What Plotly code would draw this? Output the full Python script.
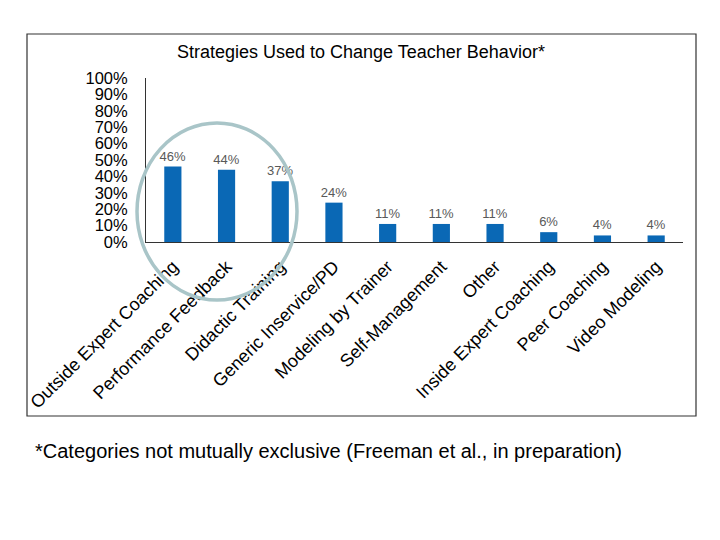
import plotly.graph_objects as go

categories = ["Outside Expert Coaching", "Performance Feedback", "Didactic Training",
              "Generic Inservice/PD", "Modeling by Trainer", "Self-Management", "Other",
              "Inside Expert Coaching", "Peer Coaching", "Video Modeling"]
values = [0.46, 0.44, 0.37, 0.24, 0.11, 0.11, 0.11, 0.06, 0.04, 0.04]
tick_vals = [i / 10 for i in range(11)]
tick_text = [f"{i*10}%" for i in range(11)]

title_text = "Strategies Used to Change Teacher Behavior*"
footnote = "*Categories not mutually exclusive (Freeman et al., in preparation)"

W, H = 720, 540
OFF = 8  # page body margin
L, R, T, B = 146 - OFF, 683 - OFF, 78 - OFF, 242 - OFF


def px(x):
    return (x - OFF - L) / (R - L)


def py(y):
    return (B - (y - OFF)) / (B - T)


fig = go.Figure(go.Bar(
    x=categories, y=values, width=0.32,
    marker=dict(color="#0A68B5", line=dict(width=0)),
    text=[f"{round(v*100)}%" for v in values],
    textposition="outside", constraintext="none",
    textfont=dict(family="Liberation Sans, Arial", size=13, color="#595959"),
    cliponaxis=False,
))

fig.update_layout(
    width=W, height=H,
    margin=dict(l=L, r=W - R, t=T, b=H - B, pad=0),
    paper_bgcolor="white", plot_bgcolor="white",
    showlegend=False,
    font=dict(family="Liberation Sans, Arial", color="black"),
)
fig.update_yaxes(range=[0, 1], tickvals=tick_vals, ticktext=tick_text,
                 showgrid=False, zeroline=False, showline=True, linecolor="#333",
                 linewidth=1, ticks="", ticklabelstandoff=14,
                 tickfont=dict(size=16.5, color="black"))
fig.update_xaxes(showgrid=False, showline=True, linecolor="#333", linewidth=1,
                 ticks="", tickangle=-45, ticklabelstandoff=6,
                 tickfont=dict(size=18, color="black"))

# border box
fig.add_shape(type="rect", xref="paper", yref="paper",
              x0=px(27), x1=px(696), y0=py(416), y1=py(34),
              line=dict(color="#333", width=1.2), layer="below")
# highlight circle
fig.add_shape(type="circle", xref="paper", yref="paper",
              x0=px(137), x1=px(297), y0=py(300), y1=py(123),
              line=dict(color="#A9C5C8", width=3.5), layer="above")

fig.add_annotation(text=title_text, xref="paper", yref="paper",
                   x=px(361), y=py(52), showarrow=False, xanchor="center",
                   yanchor="middle", font=dict(size=18, color="black"))
fig.add_annotation(text=footnote, xref="paper", yref="paper",
                   x=px(33), y=py(451), showarrow=False, xanchor="left",
                   yanchor="middle", font=dict(size=20, color="black"))

fig.write_html("out.html")
